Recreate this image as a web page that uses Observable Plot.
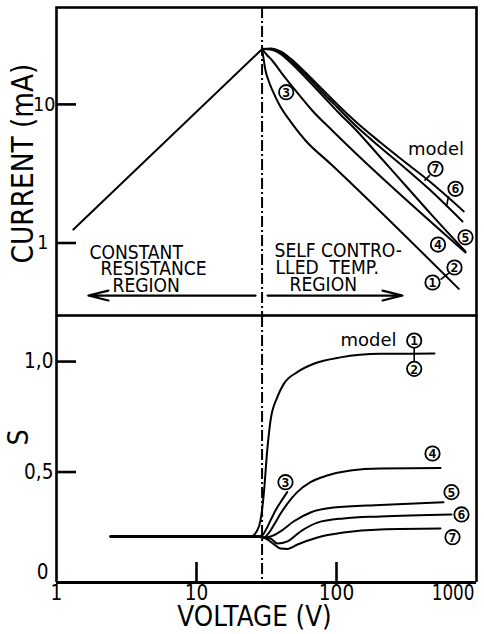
<!DOCTYPE html>
<html><head><meta charset="utf-8">
<script src="https://cdn.jsdelivr.net/npm/d3@7"></script>
<script src="https://cdn.jsdelivr.net/npm/@observablehq/plot@0.6"></script>
<style>
body{margin:0;background:#fff;}
#chart{width:484px;}
#chart svg{display:block;overflow:visible;}
</style></head><body><div id="chart"></div>
<script>
// ---------- data ----------
const xTicks = [1, 10, 100, 1000];
const xTickLabels = ["1", "10", "100", "1000"];
const currentTicks = [1, 10];
const currentTickLabels = ["1", "10"];
const sTicks = [0.5, 1];
const sTickLabels = ["0,5", "1,0"];
const sZeroLabel = ["0"];
const peakVoltage = [29.4];

// top panel: current (mA) vs voltage (V)
const ivOhmic = [[1.32,1.25],[29.47,25.1]];
const iv12 = [[29.47,25.1],[30.1,21.44],[31.11,17.56],[32.68,14.88],[34.9,12.6],[38.71,10.1],[48.27,7.24],[60.05,5.49],[90.63,3.73],[747.3,0.467]];
const iv34 = [[29.47,25.1],[31.62,22.9],[34.73,20.74],[40.94,16.63],[50.95,12.6],[67.06,9.04],[93.18,6.48],[116,5.22],[834.5,0.854]];
const iv5 = [[29.47,25.1],[33.78,24.9],[39.81,23.1],[46.93,20.06],[60.05,15.64],[79.43,11.6],[103.3,8.74],[136.7,6.59],[206.2,4.14],[311.1,2.6],[469.3,1.63],[834.5,0.868]];
const iv6 = [[29.47,25.1],[33.78,25.1],[39.81,23.69],[46.93,20.74],[60.05,16.44],[79.43,12.19],[103.3,9.34],[136.7,7.04],[206.2,4.89],[311.1,3.45],[454.1,2.47],[794.3,1.43]];
const iv7 = [[29.47,25.1],[33.78,25.31],[39.81,24.08],[46.93,21.44],[60.05,16.99],[79.43,12.81],[103.3,9.82],[136.7,7.53],[206.2,5.31],[311.1,3.81],[454.1,2.82],[811.5,1.69]];

// bottom panel: S vs voltage (V)
const s12 = [[2.43,0.208],[24.31,0.208],[27.14,0.235],[28.65,0.281],[30.25,0.401],[31.99,0.597],[33.78,0.733],[37.71,0.838],[42.04,0.899],[52.4,0.952],[68.85,0.99],[106.8,1.019],[206.2,1.035],[501.2,1.036]];
const s3 = [[2.43,0.208],[26.39,0.208],[29.47,0.213],[31.11,0.235],[33.78,0.281],[36.67,0.326],[39.81,0.363],[44.46,0.409]];
const s4 = [[2.43,0.208],[26.39,0.208],[30.1,0.204],[33.78,0.235],[36.67,0.273],[39.81,0.311],[44.46,0.356],[52.4,0.409],[65.22,0.454],[85.82,0.484],[125.9,0.507],[206.2,0.516],[553.4,0.518]];
const s5 = [[2.43,0.208],[26.39,0.208],[30.1,0.204],[33.78,0.208],[39.81,0.231],[49.3,0.276],[65.22,0.317],[95.2,0.339],[206.2,0.351],[581.2,0.363]];
const s6 = [[2.43,0.208],[26.39,0.208],[30.1,0.204],[33.78,0.199],[37.9,0.176],[44.67,0.186],[55.34,0.231],[73.14,0.271],[112.2,0.29],[206.2,0.299],[662.9,0.308]];
const s7 = [[2.43,0.208],[26.39,0.208],[30.1,0.204],[35.48,0.175],[39.81,0.154],[44.67,0.152],[52.66,0.172],[73.14,0.204],[112.2,0.226],[206.2,0.24],[553.4,0.244]];

// annotations (data coordinates)
const ivMarkers = [["3",43.73,12.25],["7",509.6,3.43],["6",707.9,2.46],["5",834.5,1.10],["4",530.9,0.975],["2",696.6,0.666],["1",485.1,0.519]];
const ivLeaders = [[465.6,3.09,425.3,2.82],[631,2.18,610.6,1.83],[553.4,0.5454,641.6,0.6127]];
const ivModel = [["model",513.6,4.28]];
const regionTexts = [["CONSTANT",1.72,0.773],["RESISTANCE",2.06,0.5925],["REGION",2.51,0.4467],["SELF CONTRO-",36.07,0.79],["LLED  TEMP.",36.67,0.5995],["REGION",46.17,0.4544]];
const regionArrows = [[26.4,0.418,1.69,0.418],[32.2,0.418,296,0.418]];
const sMarkers = [["1",359,1.095],["2",359,0.967],["3",43.2,0.454],["4",485,0.584],["5",663,0.409],["6",781,0.308],["7",674,0.205]];
const sLeaders = [[359,1.063,359,1.0]];
const sModel = [["model",169.3,1.072]];

// ---------- build ----------
const FONT = '"DejaVu Sans",sans-serif';
const rows = (list) => list.flatMap(([s, pts]) => pts.map(([v, y]) => ({s, v, y})));
const ivRows = rows([["ohmic",ivOhmic],["1-2",iv12],["3-4",iv34],["5",iv5],["6",iv6],["7",iv7]]);
const sRows = rows([["1-2",s12],["3",s3],["4",s4],["5",s5],["6",s6],["7",s7]]);
const mk = a => a.map(([t,v,y]) => ({t,v,y}));
const lk = a => a.map(([x1,y1,x2,y2]) => ({x1,y1,x2,y2}));
const xTickRows = xTicks.map((v,i) => ({v, t: xTickLabels[i]}));
const cTickRows = currentTicks.map((y,i) => ({y, t: currentTickLabels[i]}));
const sTickRows = sTicks.map((y,i) => ({y, t: sTickLabels[i]}));

const dash = {stroke:"black", strokeWidth:2, strokeDasharray:"11,3,2,3"};
const markerMarks = (data) => [
  Plot.dot(data, {x:"v", y:"y", r:7.2, fill:"white", stroke:"black", strokeWidth:1.8}),
  Plot.text(data, {x:"v", y:"y", text:"t", fontSize:13, fontWeight:"bold", fontFamily:"DejaVu Sans Mono, DejaVu Sans", dy:0.5})
];

const topChart = Plot.plot({
  width:484, height:316, marginTop:7, marginRight:8, marginBottom:1, marginLeft:56,
  x:{type:"log", domain:[1,1000], axis:null},
  y:{type:"log", domain:[0.3,50], axis:null},
  style:{fontFamily:FONT, fontSize:"20px", color:"black", background:"white", overflow:"visible"},
  marks:[
    Plot.frame({stroke:"black", strokeWidth:2.6}),
    Plot.tickY(currentTicks, {insetRight:400, strokeWidth:2.6}),
    Plot.text(cTickRows.slice(1), {y:"y", text:"t", frameAnchor:"left", textAnchor:"end", dx:-1, fontSize:20}),
    Plot.text(cTickRows.slice(0,1), {y:"y", text:"t", frameAnchor:"left", textAnchor:"end", dx:-8, fontSize:20}),
    Plot.ruleX(peakVoltage, dash),
    Plot.line(ivRows, {x:"v", y:"y", z:"s", curve:"monotone-x", strokeWidth:2}),
    Plot.arrow(lk(regionArrows), {x1:"x1", y1:"y1", x2:"x2", y2:"y2", headLength:14, headAngle:28, strokeWidth:2.2}),
    Plot.text(mk(regionTexts), {x:"v", y:"y", text:"t", textAnchor:"start", lineAnchor:"bottom", fontSize:19.5}),
    Plot.text(["CURRENT (mA)"], {text:d=>d, frameAnchor:"left", textAnchor:"middle", dx:-33, dy:2, rotate:-90, fontSize:30}),
    Plot.link(lk(ivLeaders), {x1:"x1", y1:"y1", x2:"x2", y2:"y2", strokeWidth:1.6}),
    ...markerMarks(mk(ivMarkers)),
    Plot.text(mk(ivModel), {x:"v", y:"y", text:"t", lineAnchor:"bottom", fontSize:18})
  ]
});

const bottomChart = Plot.plot({
  width:484, height:318, marginTop:0, marginRight:8, marginBottom:52, marginLeft:56,
  x:{type:"log", domain:[1,1000], axis:null},
  y:{domain:[0,1.204], axis:null},
  style:{fontFamily:FONT, fontSize:"20px", color:"black", background:"white", overflow:"visible"},
  marks:[
    Plot.ruleX([xTicks[0], xTicks[3]], {strokeWidth:2.6}),
    Plot.ruleY([0], {strokeWidth:3}),
    Plot.tickY(sTicks, {insetRight:400, strokeWidth:2.6}),
    Plot.tickX([xTicks[1], xTicks[2]], {insetTop:246, strokeWidth:2.6}),
    Plot.ruleX(peakVoltage, dash),
    Plot.line(sRows, {x:"v", y:"y", z:"s", curve:"monotone-x", strokeWidth:2}),
    Plot.link(lk(sLeaders), {x1:"x1", y1:"y1", x2:"x2", y2:"y2", strokeWidth:1.6}),
    ...markerMarks(mk(sMarkers)),
    Plot.text(mk(sModel), {x:"v", y:"y", text:"t", lineAnchor:"bottom", fontSize:18}),
    Plot.text(sTickRows, {y:"y", text:"t", frameAnchor:"left", textAnchor:"end", dx:-3, fontSize:21}),
    Plot.text(sZeroLabel, {text:d=>d, frameAnchor:"bottom-left", textAnchor:"end", dx:-8, dy:-4, fontSize:21}),
    Plot.text(xTickRows.slice(0,3), {x:"v", text:"t", frameAnchor:"bottom", lineAnchor:"bottom", dy:17, fontSize:21}),
    Plot.text(xTickRows.slice(3), {x:"v", text:"t", frameAnchor:"bottom", lineAnchor:"bottom", dy:17, dx:-2, textAnchor:"end", fontSize:21}),
    Plot.text(["S"], {text:d=>d, frameAnchor:"left", textAnchor:"middle", dx:-38, dy:-12, rotate:-90, fontSize:29}),
    Plot.text(["VOLTAGE (V)"], {text:d=>d, frameAnchor:"bottom", textAnchor:"middle", lineAnchor:"bottom", dx:-12, dy:43, fontSize:28})
  ]
});

const root = document.getElementById("chart");
root.append(topChart, bottomChart);

// condensed lettering: squeeze the upper-case / numeric texts horizontally
const condensed = new Set([...xTickLabels, ...currentTickLabels, ...sTickLabels, ...sZeroLabel,
  "CURRENT (mA)", "S", "VOLTAGE (V)", ...regionTexts.map(d => d[0])]);
root.querySelectorAll("text").forEach(t => {
  const g = t.closest("g[font-weight]");
  if (g && g.getAttribute("font-weight") === "bold") return;
  if (!condensed.has(t.textContent)) return;
  const w = t.getComputedTextLength();
  const k = t.textContent === "1000" ? 0.8 : 0.88;
  t.setAttribute("textLength", (w * k).toFixed(1));
  t.setAttribute("lengthAdjust", "spacingAndGlyphs");
});
</script></body></html>
